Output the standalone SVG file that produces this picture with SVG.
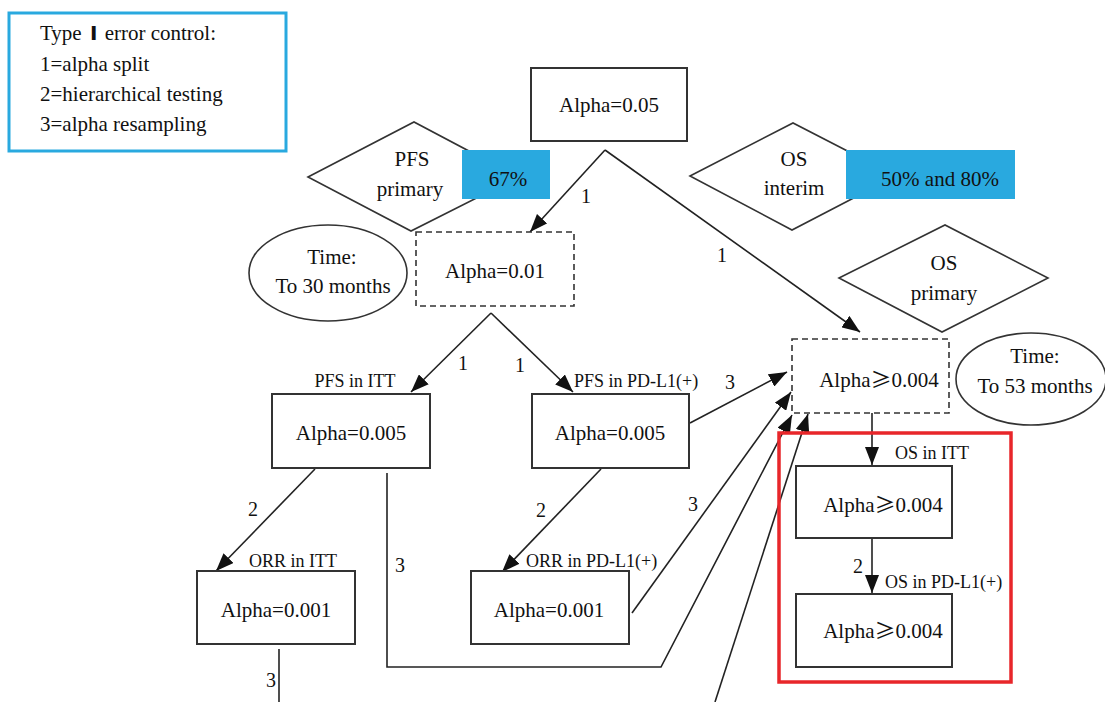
<svg xmlns="http://www.w3.org/2000/svg" width="1105" height="702" viewBox="0 0 1105 702">
<style>
text{font-family:"Liberation Serif","Times New Roman",serif;fill:#111;}
.t{font-size:21px;text-anchor:middle;}
.lbl{font-size:18px;}
.num{font-size:20px;text-anchor:middle;}
.cjk{font-family:"Noto Sans CJK SC",sans-serif;}
.roman{font-family:"DejaVu Sans","Noto Sans CJK SC",sans-serif;font-weight:bold;}
.box{fill:#fff;stroke:#333;stroke-width:2;}
.dash{fill:#fff;stroke:#333;stroke-width:1.6;stroke-dasharray:6,4;}
.shape{fill:#fff;stroke:#333;stroke-width:1.6;}
.blue{fill:#29a9df;}
.conn{fill:none;stroke:#222;stroke-width:1.6;}
</style>
<defs>
<marker id="ah" viewBox="0 0 18 14" refX="18" refY="7" markerWidth="18" markerHeight="14" markerUnits="userSpaceOnUse" orient="auto">
<path d="M0,0 L18,7 L0,14 z" fill="#111"/>
</marker>
</defs>

<g id="legend">
<rect x="9" y="13" width="277" height="138" fill="#fff" stroke="#29a9df" stroke-width="3"/>
<text x="40" y="40" font-size="21">Type <tspan class="roman" font-size="20" dx="3">Ⅰ</tspan><tspan dx="2"> error control:</tspan></text>
<text x="40" y="71" font-size="21">1=alpha split</text>
<text x="40" y="101" font-size="21">2=hierarchical testing</text>
<text x="40" y="131" font-size="21">3=alpha resampling</text>
</g>

<g id="connectors">
<line class="conn" x1="605" y1="150" x2="530" y2="232" marker-end="url(#ah)"/>
<line class="conn" x1="605" y1="150" x2="860" y2="332" marker-end="url(#ah)"/>
<line class="conn" x1="491" y1="313" x2="411" y2="392" marker-end="url(#ah)"/>
<line class="conn" x1="491" y1="313" x2="573" y2="392" marker-end="url(#ah)"/>
<line class="conn" x1="315" y1="469" x2="216" y2="571" marker-end="url(#ah)"/>
<line class="conn" x1="601" y1="469" x2="502" y2="572" marker-end="url(#ah)"/>
<polyline class="conn" points="387,473 387,667 661,667 792,415" marker-end="url(#ah)"/>
<line class="conn" x1="690" y1="423" x2="787" y2="372" marker-end="url(#ah)"/>
<line class="conn" x1="632" y1="613" x2="791" y2="392" marker-end="url(#ah)"/>
<line class="conn" x1="715" y1="702" x2="808" y2="414" marker-end="url(#ah)"/>
<line class="conn" x1="279" y1="649" x2="279" y2="702"/>
<line class="conn" x1="872" y1="413" x2="872" y2="465" marker-end="url(#ah)"/>
<line class="conn" x1="872" y1="538" x2="872" y2="593" marker-end="url(#ah)"/>
<text class="num" x="586" y="203">1</text>
<text class="num" x="722" y="262">1</text>
<text class="num" x="463" y="370">1</text>
<text class="num" x="520" y="372">1</text>
<text class="num" x="253" y="516">2</text>
<text class="num" x="400" y="572">3</text>
<text class="num" x="541" y="517">2</text>
<text class="num" x="693" y="511">3</text>
<text class="num" x="730" y="389">3</text>
<text class="num" x="271" y="687">3</text>
<text class="num" x="858" y="573">2</text>
</g>

<g id="alpha005">
<rect class="box" x="531" y="68" width="156" height="73"/>
<text class="t" x="609" y="112">Alpha=0.05</text>
</g>

<g id="pfs-primary">
<polygon class="shape" points="308,177 414,122 518,177 411,231"/>
<text class="t" x="412" y="166">PFS</text>
<text class="t" x="410" y="196">primary</text>
</g>
<g id="pfs-67">
<rect class="blue" x="462" y="150" width="88" height="49"/>
<text class="t" x="508" y="186">67%</text>
</g>

<g id="os-interim">
<polygon class="shape" points="690,176 793,123 896,176 792,230"/>
<text class="t" x="794" y="166">OS</text>
<text class="t" x="794" y="195">interim</text>
</g>
<g id="os-pct">
<rect class="blue" x="846" y="150" width="169" height="49"/>
<text class="t" x="940" y="186">50% and 80%</text>
</g>

<g id="time30">
<ellipse class="shape" cx="328" cy="273" rx="79" ry="48"/>
<text class="t" x="332" y="264">Time:</text>
<text class="t" x="333" y="293">To 30 months</text>
</g>

<g id="alpha001">
<rect class="dash" x="416" y="232" width="158" height="74"/>
<text class="t" x="495" y="278">Alpha=0.01</text>
</g>

<g id="os-primary">
<polygon class="shape" points="839,278 945,225 1048,278 942,332"/>
<text class="t" x="944" y="270">OS</text>
<text class="t" x="944" y="300">primary</text>
</g>

<g id="alpha0004">
<rect class="dash" x="792" y="339" width="157" height="74"/>
<text class="t" x="879" y="387">Alpha<tspan class="cjk">≥</tspan>0.004</text>
</g>

<g id="time53">
<ellipse class="shape" cx="1031" cy="379" rx="75" ry="46"/>
<text class="t" x="1035" y="363">Time:</text>
<text class="t" x="1035" y="393">To 53 months</text>
</g>

<g id="pfs-itt">
<rect class="box" x="272" y="394" width="158" height="74"/>
<text class="lbl" x="355" y="387" text-anchor="middle">PFS in ITT</text>
<text class="t" x="351" y="440">Alpha=0.005</text>
</g>

<g id="pfs-pdl1">
<rect class="box" x="532" y="394" width="157" height="74"/>
<text class="lbl" x="574" y="387">PFS in PD-L1(+)</text>
<text class="t" x="610" y="440">Alpha=0.005</text>
</g>

<g id="orr-itt">
<rect class="box" x="197" y="571" width="158" height="73"/>
<text class="lbl" x="249" y="567">ORR in ITT</text>
<text class="t" x="276" y="617">Alpha=0.001</text>
</g>

<g id="orr-pdl1">
<rect class="box" x="471" y="571" width="158" height="73"/>
<text class="lbl" x="526" y="567">ORR in PD-L1(+)</text>
<text class="t" x="549" y="617">Alpha=0.001</text>
</g>

<g id="os-group">
<rect x="779" y="433" width="232" height="249" fill="none" stroke="#e8262a" stroke-width="3.5"/>
</g>

<g id="os-itt">
<rect class="box" x="796" y="466" width="156" height="72"/>
<text class="lbl" x="895" y="459">OS in ITT</text>
<text class="t" x="883" y="512">Alpha<tspan class="cjk">≥</tspan>0.004</text>
</g>

<g id="os-pdl1">
<rect class="box" x="796" y="594" width="156" height="73"/>
<text class="lbl" x="885" y="588">OS in PD-L1(+)</text>
<text class="t" x="883" y="638">Alpha<tspan class="cjk">≥</tspan>0.004</text>
</g>
</svg>
